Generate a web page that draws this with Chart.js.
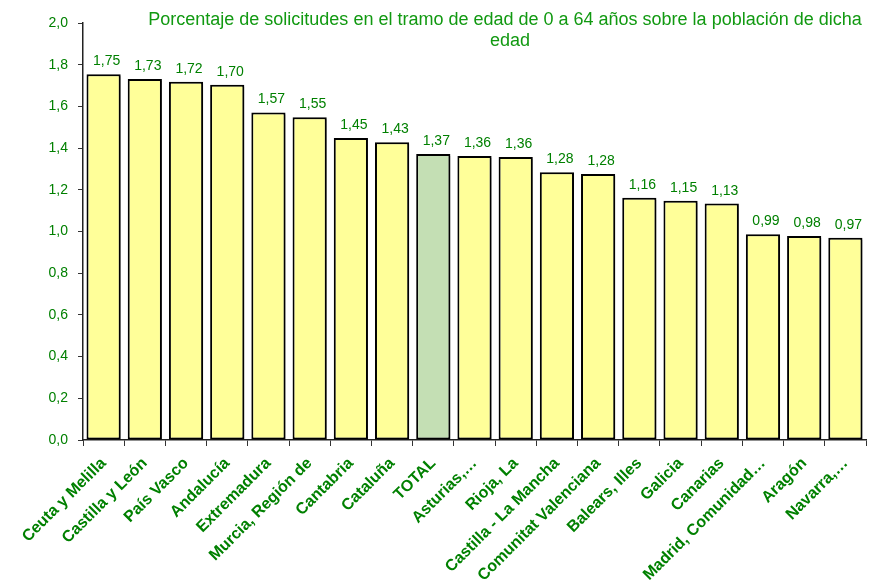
<!DOCTYPE html>
<html>
<head>
<meta charset="utf-8">
<script src="https://cdn.jsdelivr.net/npm/chart.js@4"></script>
<style>
html,body{margin:0;padding:0;background:#fff;}
#wrap{position:relative;width:872px;height:580px;}
</style>
</head>
<body>
<div id="wrap"><canvas id="c" width="872" height="580"></canvas></div>
<script>
const categories = ["Ceuta y Melilla","Castilla y León","País Vasco","Andalucía","Extremadura","Murcia, Región de","Cantabria","Cataluña","TOTAL","Asturias,…","Rioja, La","Castilla - La Mancha","Comunitat Valenciana","Balears, Illes","Galicia","Canarias","Madrid, Comunidad…","Aragón","Navarra,…"];
const values = [1.754,1.731,1.718,1.704,1.571,1.548,1.449,1.428,1.372,1.362,1.357,1.284,1.276,1.162,1.148,1.134,0.987,0.978,0.970];
const yTicks = [0,0.2,0.4,0.6,0.8,1.0,1.2,1.4,1.6,1.8,2.0];
const titleLines = ["Porcentaje de solicitudes en el tramo de edad de 0 a 64 años sobre la población de dicha","edad"];

const GREEN = '#008000';
const TITLE_GREEN = '#119911';
const FONT = "'Liberation Sans', Arial, sans-serif";
const barColors = categories.map(c => c === 'TOTAL' ? '#C4DFB4' : '#FFFF99');
const fmt = (v, d) => v.toFixed(d).replace('.', ',');

const shadowPlugin = {
  id: 'shadow',
  beforeDatasetsDraw(chart) {
    const ctx = chart.ctx;
    ctx.save();
    ctx.shadowColor = 'rgba(0,0,0,0.25)';
    ctx.shadowOffsetX = 3;
    ctx.shadowOffsetY = 2;
    ctx.shadowBlur = 0;
  },
  afterDatasetsDraw(chart) {
    chart.ctx.restore();
  }
};

const valueLabels = {
  id: 'valueLabels',
  afterDatasetsDraw(chart) {
    const ctx = chart.ctx;
    const meta = chart.getDatasetMeta(0);
    ctx.save();
    ctx.fillStyle = GREEN;
    ctx.font = "14px " + FONT;
    ctx.textAlign = 'center';
    ctx.textBaseline = 'alphabetic';
    meta.data.forEach((bar, i) => {
      ctx.fillText(fmt(values[i], 2), bar.x + 3, bar.y - 9);
    });
    ctx.restore();
  }
};

const titlePlugin = {
  id: 'titleText',
  afterDraw(chart) {
    const ctx = chart.ctx;
    ctx.save();
    ctx.fillStyle = TITLE_GREEN;
    ctx.font = "18px " + FONT;
    ctx.textAlign = 'center';
    ctx.textBaseline = 'alphabetic';
    ctx.fillText(titleLines[0], 505, 25);
    ctx.fillText(titleLines[1], 510, 46);
    ctx.restore();
  }
};

new Chart(document.getElementById('c'), {
  type: 'bar',
  data: {
    labels: categories,
    datasets: [{
      data: values,
      backgroundColor: barColors,
      borderColor: '#000000',
      borderWidth: 2,
      borderSkipped: false,
      barPercentage: 0.83,
      categoryPercentage: 1.0
    }]
  },
  options: {
    responsive: false,
    animation: false,
    devicePixelRatio: 1,
    layout: { padding: { top: 23, right: 6, left: 0, bottom: 0 } },
    plugins: {
      legend: { display: false },
      tooltip: { enabled: false },
      title: { display: false }
    },
    scales: {
      x: {
        grid: {
          display: true,
          offset: true,
          drawOnChartArea: false,
          drawTicks: true,
          tickLength: 6,
          color: '#333333',
          lineWidth: 1
        },
        border: { display: true, color: '#222222', width: 1.5 },
        ticks: {
          autoSkip: false,
          minRotation: 45,
          maxRotation: 45,
          padding: 8,
          color: GREEN,
          font: { family: FONT, size: 16, weight: 'bold' }
        },
        afterFit(scale) { scale.height = 140; }
      },
      y: {
        min: 0,
        max: 2,
        afterBuildTicks(scale) { scale.ticks = yTicks.map(v => ({ value: v })); },
        grid: {
          display: true,
          drawOnChartArea: false,
          drawTicks: true,
          tickLength: 5,
          color: '#333333'
        },
        border: { display: true, color: '#222222', width: 1.5 },
        ticks: {
          padding: 10,
          color: GREEN,
          font: { family: FONT, size: 14 },
          callback: (v) => fmt(v, 1)
        },
        afterFit(scale) { scale.width = 83; }
      }
    }
  },
  plugins: [shadowPlugin, valueLabels, titlePlugin]
});
</script>
</body>
</html>
